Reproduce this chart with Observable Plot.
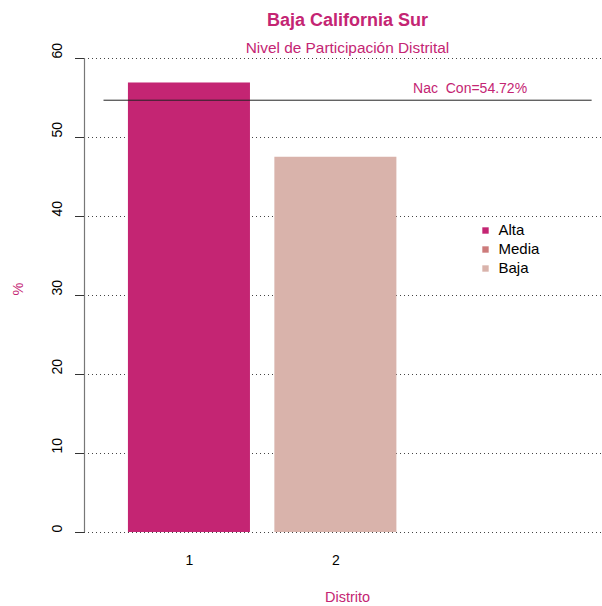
<!DOCTYPE html>
<html><head><meta charset="utf-8">
<script src="https://cdn.jsdelivr.net/npm/d3@7"></script>
<script src="https://cdn.jsdelivr.net/npm/@observablehq/plot@0.6"></script>
<style>body{margin:0;background:#fff;} svg{font-family:"Liberation Sans",Arial,sans-serif;}</style>
</head><body><div id="chart"></div>
<script>
const distritos = ["1", "2"];
const participacion = [56.9, 47.5];
const nivelDistrito = ["Alta", "Baja"];
const niveles = ["Alta", "Media", "Baja"];
const colores = ["#C42573", "#CD7B7B", "#D9B3AB"];
const nacional = 54.72;
const nacLabel = "Nac  Con=54.72%";
const yTicks = [0, 10, 20, 30, 40, 50, 60];
const titulo = "Baja California Sur";
const subtitulo = "Nivel de Participación Distrital";
const xLabel = "Distrito";
const yLabel = "%";

const magenta = "#C42573";
const data = distritos.map((d, i) => ({d, v: participacion[i], n: nivelDistrito[i], i}));
const colorOf = n => colores[niveles.indexOf(n)];
const xDom = [-0.16, 4.085];
const mid = {lineAnchor: "middle"};

const legendMarks = niveles.flatMap((n, i) => [
  Plot.dot([n], {frameAnchor: "top-left", dx: 401, dy: 172 + i * 19, symbol: "square", r: 3.6, fill: colores[i], stroke: null}),
  Plot.text([n], {...mid, frameAnchor: "top-left", dx: 414, dy: 172 + i * 19, text: d => d, textAnchor: "start", fontSize: 15, fill: "#000"})
]);

const chart = Plot.plot({
  width: 602, height: 606,
  marginLeft: 84, marginRight: 0, marginTop: 58, marginBottom: 74,
  x: {type: "linear", domain: xDom, axis: null},
  y: {domain: [0, 60], axis: null},
  marks: [
    Plot.gridY(yTicks, {stroke: "#444", strokeOpacity: 1, strokeDasharray: "1,3", strokeWidth: 1}),
    Plot.rectY(data, {x1: d => 0.2 + 1.2 * d.i, x2: d => 1.2 + 1.2 * d.i, y1: 0, y2: "v", fill: d => colorOf(d.n), inset: 0}),
    Plot.ruleY([nacional], {x1: 0, x2: 4, stroke: "#222", strokeWidth: 1}),
    Plot.text([nacional], {...mid, x: 3, y: d => d, text: () => nacLabel, dy: -12, fill: magenta, fontSize: 14}),
    Plot.ruleX([xDom[0]], {y1: 0, y2: 60, stroke: "#777", strokeWidth: 1.2}),
    Plot.axisY({ticks: yTicks, tickSize: 9, tickFormat: () => "", label: null, stroke: "#333"}),
    Plot.text(yTicks, {...mid, y: d => d, text: d => String(d), frameAnchor: "left", dx: -27, rotate: -90, fontSize: 14, fill: "#000"}),
    Plot.text(data, {...mid, x: d => 0.7 + 1.2 * d.i, text: "d", frameAnchor: "bottom", dy: 28, fontSize: 14, fill: "#000"}),
    Plot.text([titulo], {...mid, frameAnchor: "top", dx: 4, dy: -38, text: d => d, fontSize: 18, fontWeight: "bold", fill: magenta}),
    Plot.text([subtitulo], {...mid, frameAnchor: "top", dx: 4, dy: -10, text: d => d, fontSize: 15.4, fill: magenta}),
    Plot.text([xLabel], {...mid, frameAnchor: "bottom", dx: 4, dy: 65, text: d => d, fontSize: 14.5, fill: magenta}),
    Plot.text([yLabel], {...mid, frameAnchor: "left", dx: -66, rotate: -90, text: d => d, fontSize: 14.5, fill: magenta}),
    ...legendMarks
  ]
});
document.getElementById("chart").appendChild(chart);
</script></body></html>
